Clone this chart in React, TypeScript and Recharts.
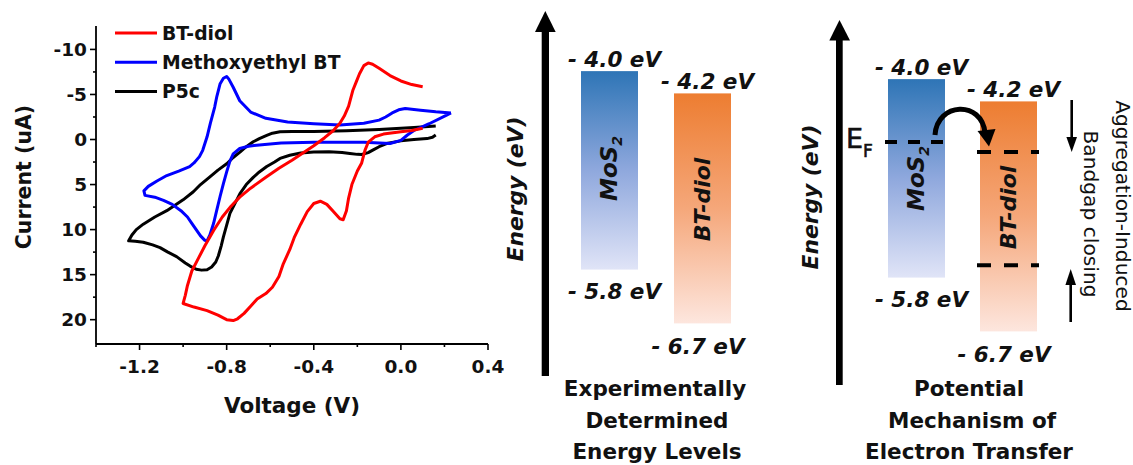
import React from "react";
import {
  LineChart,
  Line,
  XAxis,
  YAxis,
  Legend,
  Label,
  BarChart,
  Bar,
  ReferenceLine,
} from "recharts";

const FONT = "'DejaVu Sans', sans-serif";

// cyclic voltammograms, [voltage (V), current (uA)] in sweep order
const btDiolSweep: [number, number][] = [
  [0.1, -5.85], [0.05, -6.1], [0.0, -6.5], [-0.05, -7.1], [-0.1, -7.9], [-0.13, -8.35],
  [-0.15, -8.5], [-0.17, -8.2], [-0.19, -7.3], [-0.205, -6.4], [-0.22, -5.5], [-0.24, -3.7],
  [-0.26, -2.6], [-0.28, -1.8], [-0.31, -1.0], [-0.35, -0.2], [-0.4, 0.7], [-0.45, 1.5],
  [-0.5, 2.3], [-0.56, 3.2], [-0.62, 4.2], [-0.69, 5.4], [-0.74, 6.4], [-0.78, 7.4],
  [-0.82, 8.6], [-0.86, 10.1], [-0.9, 11.8], [-0.93, 13.2], [-0.96, 14.6], [-0.98, 16.2],
  [-0.99, 17.3], [-1.0, 18.2], [-0.95, 18.6], [-0.89, 19.0], [-0.84, 19.5], [-0.8, 20.0],
  [-0.77, 20.1], [-0.75, 19.9], [-0.72, 19.3], [-0.69, 18.5], [-0.66, 17.7], [-0.62, 17.1],
  [-0.59, 16.4], [-0.56, 15.2], [-0.54, 13.8], [-0.51, 12.2], [-0.49, 10.9], [-0.46, 9.4],
  [-0.43, 8.0], [-0.4, 7.1], [-0.37, 6.85], [-0.34, 7.2], [-0.31, 8.0], [-0.28, 8.8],
  [-0.265, 8.9], [-0.25, 7.9], [-0.24, 6.5], [-0.225, 5.0], [-0.2, 3.5], [-0.18, 2.6],
  [-0.165, 1.2], [-0.15, 0.3], [-0.12, -0.3], [-0.08, -0.6], [0.0, -0.85], [0.05, -1.0],
  [0.1, -1.25],
];

const methoxyethylSweep: [number, number][] = [
  [0.23, -2.95], [0.16, -3.07], [0.09, -3.25], [0.02, -3.45], [-0.01, -3.3], [-0.04, -2.95],
  [-0.07, -2.5], [-0.1, -2.15], [-0.17, -1.8], [-0.28, -1.6], [-0.4, -1.75], [-0.52, -1.95],
  [-0.62, -2.35], [-0.69, -3.05], [-0.74, -4.3], [-0.77, -5.8], [-0.79, -6.7], [-0.8, -7.0],
  [-0.815, -6.8], [-0.83, -6.2], [-0.845, -4.8], [-0.855, -3.6], [-0.875, -1.8], [-0.89, -0.3],
  [-0.91, 1.2], [-0.925, 1.9], [-0.95, 2.6], [-0.97, 3.0], [-1.02, 3.5], [-1.075, 4.0],
  [-1.12, 4.6], [-1.16, 5.2], [-1.18, 5.7], [-1.175, 6.2], [-1.13, 6.4], [-1.09, 6.75],
  [-1.05, 7.2], [-1.01, 7.9], [-0.98, 8.6], [-0.96, 9.3], [-0.94, 10.0], [-0.92, 10.7],
  [-0.9, 11.2], [-0.89, 11.25], [-0.877, 10.6], [-0.86, 9.3], [-0.846, 7.9], [-0.83, 6.3],
  [-0.815, 4.9], [-0.8, 3.6], [-0.785, 2.4], [-0.77, 1.6], [-0.74, 1.0], [-0.7, 0.75],
  [-0.65, 0.6], [-0.55, 0.4], [-0.4, 0.3], [-0.17, 0.3], [-0.05, 0.45], [0.0, 0.1],
  [0.03, -0.5], [0.06, -1.0], [0.13, -1.75], [0.21, -2.7], [0.23, -2.95],
];

const p5cSweep: [number, number][] = [
  [0.16, -1.5], [0.06, -1.33], [-0.1, -1.11], [-0.25, -0.96], [-0.4, -0.88], [-0.5, -0.9],
  [-0.555, -0.85], [-0.59, -0.7], [-0.616, -0.45], [-0.65, -0.1], [-0.678, 0.25], [-0.71, 0.8],
  [-0.739, 1.4], [-0.77, 2.0], [-0.8, 2.7], [-0.84, 3.4], [-0.877, 4.15], [-0.92, 5.0],
  [-0.953, 5.8], [-1.0, 6.7], [-1.075, 7.9], [-1.13, 8.6], [-1.183, 9.4], [-1.215, 10.0],
  [-1.235, 10.6], [-1.25, 11.25], [-1.22, 11.3], [-1.183, 11.4], [-1.14, 11.7], [-1.106, 12.0],
  [-1.07, 12.5], [-1.03, 13.0], [-0.99, 13.7], [-0.968, 14.05], [-0.94, 14.4], [-0.915, 14.5],
  [-0.89, 14.45], [-0.869, 14.15], [-0.85, 13.6], [-0.838, 12.9], [-0.825, 11.8], [-0.815, 10.8],
  [-0.8, 9.5], [-0.785, 8.2], [-0.76, 7.0], [-0.739, 6.0], [-0.71, 5.0], [-0.678, 4.2],
  [-0.65, 3.6], [-0.616, 3.0], [-0.58, 2.5], [-0.555, 2.1], [-0.51, 1.75], [-0.46, 1.5],
  [-0.4, 1.4], [-0.33, 1.37], [-0.27, 1.45], [-0.234, 1.56], [-0.2, 1.65], [-0.18, 1.67],
  [-0.15, 1.45], [-0.127, 1.15], [-0.1, 0.8], [-0.066, 0.45], [0.0, 0.15], [0.06, 0.0],
  [0.12, -0.1], [0.145, -0.25], [0.16, -0.5],
];

const voltageTicks = [-1.4, -1.2, -1.0, -0.8, -0.6, -0.4, -0.2, 0, 0.2, 0.4];
const currentTicks = [-10, -7.5, -5, -2.5, 0, 2.5, 5, 7.5, 10, 12.5, 15, 17.5, 20];

// energy levels (eV) as [lower, upper]
const mos2Levels: [number, number] = [-5.8, -4.0];
const btDiolLevels: [number, number] = [-6.7, -4.2];
const fermiLevel = -4.57;
const btDiolClosedGap = [-4.75, -5.98];

const cvSeries = [
  { name: "BT-diol", color: "#ff0000", points: btDiolSweep },
  { name: "Methoxyethyl BT", color: "#0000ff", points: methoxyethylSweep },
  { name: "P5c", color: "#000000", points: p5cSweep },
];

const toRows = (pts: [number, number][]) => pts.map(([v, i]) => ({ v, i }));

const tickText = { fontFamily: FONT, fontWeight: 700, fontSize: 18.5, fill: "#111" };

const VTick = (p: any) => {
  const val = p.payload.value;
  const major = Math.abs(Math.round(val * 10)) % 4 === 0;
  return (
    <g>
      <line x1={p.x} x2={p.x} y1={p.y} y2={p.y + (major ? 6 : 3)} stroke="#000" strokeWidth={1.6} />
      {major && (
        <text x={p.x} y={p.y + 29} textAnchor="middle" style={tickText}>
          {val.toFixed(1)}
        </text>
      )}
    </g>
  );
};

const CTick = (p: any) => {
  const val = p.payload.value;
  const major = val % 5 === 0;
  return (
    <g>
      <line x1={p.x - (major ? 6 : 3)} x2={p.x} y1={p.y} y2={p.y} stroke="#000" strokeWidth={1.6} />
      {major && (
        <text x={p.x - 9} y={p.y} dy="0.36em" textAnchor="end" style={tickText}>
          {val}
        </text>
      )}
    </g>
  );
};

const CvLegend = () => (
  <svg width={290} height={90}>
    {cvSeries.map((s, k) => (
      <g key={s.name}>
        <line x1={0} x2={42} y1={10 + k * 29.2} y2={10 + k * 29.2} stroke={s.color} strokeWidth={3} />
        <text x={47} y={17 + k * 29.2} style={{ fontFamily: FONT, fontWeight: 700, fontSize: 18.8, fill: "#111" }}>
          {s.name}
        </text>
      </g>
    ))}
  </svg>
);

function CvChart() {
  return (
    <div style={{ position: "absolute", left: 0, top: 0 }}>
      <LineChart width={520} height={465} margin={{ top: 26, right: 32, bottom: 0, left: 0 }}>
        <XAxis
          type="number"
          dataKey="v"
          domain={[-1.4, 0.4]}
          allowDataOverflow
          ticks={voltageTicks}
          interval={0}
          tick={(p: any) => <VTick {...p} />}
          tickLine={false}
          tickSize={0}
          tickMargin={0}
          height={121}
          axisLine={{ stroke: "#000", strokeWidth: 1.8 }}
        >
          <Label
            content={() => (
              <text x={292} y={413} textAnchor="middle" style={{ fontFamily: FONT, fontWeight: 700, fontSize: 21.5, fill: "#111" }}>
                Voltage (V)
              </text>
            )}
          />
        </XAxis>
        <YAxis
          type="number"
          dataKey="i"
          reversed
          domain={[-12.6, 22.7]}
          allowDataOverflow
          ticks={currentTicks}
          interval={0}
          tick={(p: any) => <CTick {...p} />}
          tickLine={false}
          tickSize={0}
          tickMargin={0}
          width={96}
          axisLine={{ stroke: "#000", strokeWidth: 1.8 }}
        >
          <Label
            content={() => (
              <text
                x={31}
                y={177}
                transform="rotate(-90 31 177)"
                textAnchor="middle"
                style={{ fontFamily: FONT, fontWeight: 700, fontSize: 20.5, fill: "#111" }}
              >
                Current (uA)
              </text>
            )}
          />
        </YAxis>
        <Legend
          layout="vertical"
          align="center"
          verticalAlign="middle"
          wrapperStyle={{ left: 115, top: 23, width: 290, height: 90 }}
          content={() => <CvLegend />}
        />
        {[...cvSeries].reverse().map((s) => (
          <Line
            key={s.name}
            name={s.name}
            data={toRows(s.points)}
            dataKey="i"
            type="linear"
            stroke={s.color}
            strokeWidth={3}
            strokeLinejoin="round"
            dot={false}
            activeDot={false}
            isAnimationActive={false}
          />
        ))}
      </LineChart>
    </div>
  );
}

const evStyle = { fontFamily: FONT, fontWeight: 700, fontStyle: "italic", fontSize: 21.5, fill: "#111" } as const;
const ev = (v: number) => `- ${Math.abs(v).toFixed(1)} eV`;

function LevelBar(props: {
  id: string;
  name: string;
  levels: [number, number];
  left: number;
  top: number;
  height: number;
  bottomDx: number;
  bottomGap: number;
  nameDy: number;
  nameSize: number;
  dashes?: { y: number; dash: string }[];
}) {
  const { id, name, levels, left, top, height, bottomDx, bottomGap, nameDy, nameSize, dashes = [] } = props;
  const data = [{ name, range: levels }];
  const sub = name.match(/^(.*?)(\d)$/);
  const shape = (p: any) => {
    const t = Math.min(p.y, p.y + p.height);
    const b = Math.max(p.y, p.y + p.height);
    const cx = p.x + p.width / 2;
    const nx = cx + 8;
    const ny = (t + b) / 2 + nameDy;
    return (
      <g>
        <rect x={p.x} y={t} width={p.width} height={b - t} fill={`url(#${id})`} />
        <text x={cx + 5} y={t - 4} textAnchor="middle" style={evStyle}>
          {ev(levels[1])}
        </text>
        <text x={cx + bottomDx} y={b + bottomGap} textAnchor="middle" style={evStyle}>
          {ev(levels[0])}
        </text>
        <text
          x={nx}
          y={ny}
          transform={`rotate(-90 ${nx} ${ny})`}
          textAnchor="middle"
          style={{ ...evStyle, fontSize: nameSize }}
        >
          {sub ? (
            <>
              {sub[1]}
              <tspan dy={5} fontSize={nameSize * 0.62}>
                {sub[2]}
              </tspan>
            </>
          ) : (
            name
          )}
        </text>
      </g>
    );
  };
  return (
    <div style={{ position: "absolute", left, top }}>
      <BarChart width={130} height={height} data={data} margin={{ top: 0, right: 34, bottom: 0, left: 34 }}>
        <XAxis dataKey="name" hide />
        <YAxis type="number" domain={[-7.5, -3.5]} allowDataOverflow hide />
        <Bar dataKey="range" barSize={57} shape={shape} isAnimationActive={false} />
        {dashes.map((d) => (
          <ReferenceLine key={d.y} y={d.y} stroke="#000" strokeWidth={4} strokeDasharray={d.dash} />
        ))}
      </BarChart>
    </div>
  );
}

const captionStyle = { fontFamily: FONT, fontWeight: 700, fontSize: 21.5, fill: "#111" };
const axisTitle = { fontFamily: FONT, fontWeight: 700, fontStyle: "italic", fontSize: 21.8, fill: "#111" } as const;
const sideStyle = { fontFamily: FONT, fontSize: 20.2, fill: "#111" };

function Gradients() {
  return (
    <svg width={0} height={0} style={{ position: "absolute" }}>
      <defs>
        {["mos2a", "mos2b"].map((id) => (
          <linearGradient key={id} id={id} x1="0" y1="0" x2="0" y2="1">
            <stop offset="0%" stopColor="#2e75b6" />
            <stop offset="50%" stopColor="#8fa8dd" />
            <stop offset="100%" stopColor="#e0e4f7" />
          </linearGradient>
        ))}
        {["bta", "btb"].map((id) => (
          <linearGradient key={id} id={id} x1="0" y1="0" x2="0" y2="1">
            <stop offset="0%" stopColor="#ed7d31" />
            <stop offset="50%" stopColor="#f5a77a" />
            <stop offset="100%" stopColor="#fde6de" />
          </linearGradient>
        ))}
      </defs>
    </svg>
  );
}

function Annotations() {
  return (
    <svg width={1133} height={465} style={{ position: "absolute", left: 0, top: 0, pointerEvents: "none" }}>
      {/* energy axes */}
      <rect x={541.7} y={31} width={7.3} height={345} fill="#000" />
      <polygon points="535,32 555.7,32 545.3,11" fill="#000" />
      <rect x={836} y={40} width={6.7} height={345} fill="#000" />
      <polygon points="829.3,40.5 850,40.5 839.5,20" fill="#000" />
      <text x={523.3} y={189} transform="rotate(-90 523.3 189)" textAnchor="middle" style={axisTitle}>
        Energy (eV)
      </text>
      <text x={818.3} y={197} transform="rotate(-90 818.3 197)" textAnchor="middle" style={axisTitle}>
        Energy (eV)
      </text>

      {/* Fermi level label and transfer arrow */}
      <text x={846} y={148} style={{ fontFamily: FONT, fontSize: 27, fill: "#111", stroke: "#111", strokeWidth: 0.6 }}>
        E
        <tspan dy={9} fontSize={17}>
          F
        </tspan>
      </text>
      <path d="M 935 135 C 937 102, 982 100, 985 133" fill="none" stroke="#000" strokeWidth={5} />
      <polygon points="977.5,131 995.5,129 989,146.5" fill="#000" />

      {/* bandgap closing arrows */}
      <line x1={1071.7} x2={1071.7} y1={100} y2={139} stroke="#000" strokeWidth={2.6} />
      <polygon points="1066.4,137 1077,137 1071.7,152" fill="#000" />
      <line x1={1070.7} x2={1070.7} y1={322} y2={283} stroke="#000" strokeWidth={2.6} />
      <polygon points="1065.4,285 1076,285 1070.7,269" fill="#000" />
      <text x={1115.5} y={206} transform="rotate(90 1115.5 206)" textAnchor="middle" style={sideStyle}>
        Aggregation-Induced
      </text>
      <text x={1083.5} y={214} transform="rotate(90 1083.5 214)" textAnchor="middle" style={sideStyle}>
        Bandgap closing
      </text>

      {/* captions */}
      <text x={655} textAnchor="middle" style={captionStyle}>
        <tspan x={655} y={396}>Experimentally</tspan>
        <tspan x={657} y={427.5}>Determined</tspan>
        <tspan x={657} y={459}>Energy Levels</tspan>
      </text>
      <text x={970} textAnchor="middle" style={captionStyle}>
        <tspan x={969} y={396}>Potential</tspan>
        <tspan x={972} y={427.5}>Mechanism of</tspan>
        <tspan x={969} y={459}>Electron Transfer</tspan>
      </text>
    </svg>
  );
}

export default function App() {
  return (
    <div
      style={{
        position: "absolute",
        left: 0,
        top: 0,
        width: 1133,
        height: 465,
        background: "#fff",
        overflow: "hidden",
        fontFamily: FONT,
      }}
    >
      <Gradients />
      <CvChart />
      <LevelBar id="mos2a" name="MoS2" levels={mos2Levels} left={544} top={15.5} height={441} bottomDx={5} bottomGap={29} nameDy={-2} nameSize={23} />
      <LevelBar id="bta" name="BT-diol" levels={btDiolLevels} left={636.7} top={28.9} height={368} bottomDx={-4.5} bottomGap={31} nameDy={-9} nameSize={22} />
      <LevelBar
        id="mos2b"
        name="MoS2"
        levels={mos2Levels}
        left={850.7}
        top={24.2}
        height={441}
        bottomDx={5}
        bottomGap={29}
        nameDy={0}
        nameSize={23}
        dashes={[{ y: fermiLevel, dash: "12 11" }]}
      />
      <LevelBar
        id="btb"
        name="BT-diol"
        levels={btDiolLevels}
        left={943.3}
        top={37.3}
        height={368}
        bottomDx={-4.5}
        bottomGap={31}
        nameDy={-9}
        nameSize={22}
        dashes={btDiolClosedGap.map((y) => ({ y, dash: "14 13" }))}
      />
      <Annotations />
    </div>
  );
}
